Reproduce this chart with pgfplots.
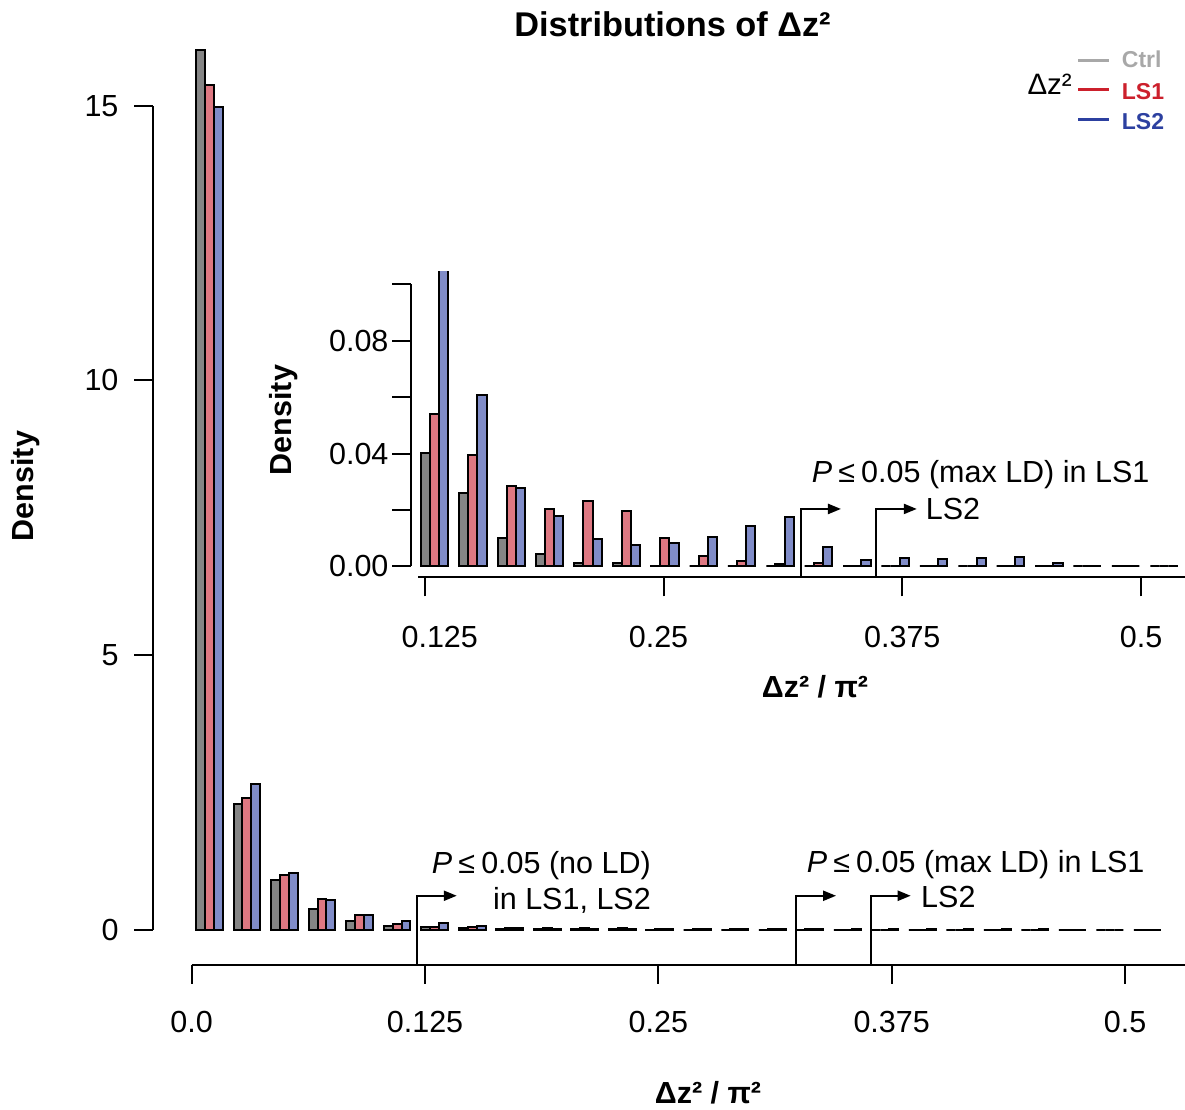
\documentclass[border=0pt]{standalone}
\usepackage{pgfplots}
\pgfplotsset{compat=1.18}
\usepackage{pgfplotstable}
\usepackage{fontspec}
\setmainfont{Liberation Sans}
\usetikzlibrary{arrows.meta}

\definecolor{ctrlfill}{RGB}{133,133,133}
\definecolor{lsonefill}{RGB}{222,120,130}
\definecolor{lstwofill}{RGB}{128,140,200}
\definecolor{ctrlline}{RGB}{168,168,168}
\definecolor{lsoneline}{RGB}{204,32,44}
\definecolor{lstwoline}{RGB}{44,64,160}

\newcommand{\tickfont}{\fontsize{30.5}{36}\selectfont}
\newcommand{\labfont}{\fontsize{30.5}{36}\selectfont\bfseries}

% Histogram densities of Delta z^2 / pi^2, bins of width 0.02 (k = bin index)
\pgfplotstableread{
k  ctrl    ls1     ls2
0  16.01   15.38   14.97
1  2.28    2.40    2.65
2  0.91    1.00    1.03
3  0.38    0.55    0.54
4  0.16    0.26    0.27
5  0.07    0.10    0.15
6  0.0402  0.054   0.12
7  0.026   0.0395  0.0608
8  0.0102  0.0286  0.0279
9  0.0045  0.0205  0.0180
10 0.0012  0.0231  0.0097
11 0.0014  0.0196  0.0076
12 0.0003  0.0102  0.0083
13 0       0.0038  0.0105
14 0       0.0021  0.0143
15 0       0.0008  0.0174
16 0       0.0012  0.0069
17 0       0.0002  0.0024
18 0       0       0.0031
19 0       0       0.0025
20 0       0       0.0031
21 0       0       0.0035
22 0       0       0.0011
23 0       0       0
24 0       0       0
25 0       0       0
}\dzdata

\pgfplotsset{
  hbar/.style={ybar, bar width=0.0048, bar shift=0pt, draw=black, line width=2pt},
  rstyle/.style={
    scale only axis, anchor=south west,
    axis lines*=left, axis line style={draw=none},
    tick align=outside, major tick length=19pt,
    tick style={line width=2pt, black},
    tick label style={font=\tickfont},
    /pgf/number format/assume math mode=true,
    clip mode=individual,
  },
}

\begin{document}
\begin{tikzpicture}[x=1pt,y=1pt]
\path[use as bounding box] (0,0) rectangle (1185,1109);

% ---------- main histogram ----------
\begin{axis}[rstyle,
  at={(153pt,144pt)}, width=1032pt, height=925pt,
  xmin=-0.02073, xmax=0.53212, ymin=-0.646, ymax=16.197,
  xtick={0,0.125,0.25,0.375,0.5}, xticklabels={0.0,0.125,0.25,0.375,0.5},
  ytick={0,5,10,15}, yticklabels={0,5,10,15},
  xticklabel style={yshift=-24pt},
  yticklabel style={xshift=-12pt},
]
\addplot[hbar, fill=ctrlfill]  table[x expr=\thisrow{k}*0.0201+0.0047, y=ctrl] {\dzdata};
\addplot[hbar, fill=lsonefill] table[x expr=\thisrow{k}*0.0201+0.0095, y=ls1]  {\dzdata};
\addplot[hbar, fill=lstwofill] table[x expr=\thisrow{k}*0.0201+0.0143, y=ls2]  {\dzdata};
\draw[line width=2pt] (axis cs:0,-0.646) -- (axis cs:0.53212,-0.646);
\draw[line width=2pt] (axis cs:-0.02073,0) -- (axis cs:-0.02073,15);
\draw[line width=2.2pt, -{Triangle[length=13pt,width=10pt]}]
  (axis cs:0.1206,-0.646) |- (axis cs:0.1420,0.615);
\draw[line width=2.2pt, -{Triangle[length=13pt,width=10pt]}]
  (axis cs:0.3236,-0.646) |- (axis cs:0.3452,0.615);
\draw[line width=2.2pt, -{Triangle[length=13pt,width=10pt]}]
  (axis cs:0.3639,-0.646) |- (axis cs:0.3852,0.615);
\end{axis}

% ---------- inset: tail of the distribution ----------
\begin{axis}[rstyle,
  at={(411pt,531.5pt)}, width=774pt, height=305.5pt,
  xmin=0.1178, xmax=0.5230, ymin=-0.0039, ymax=0.1044,
  restrict x to domain=0.118:0.53,
  xtick={0.125,0.25,0.375,0.5},
  xticklabels={\hspace*{30pt}0.125,0.25\hspace*{10pt},0.375,0.5},
  ytick={0,0.02,0.04,0.06,0.08,0.1}, yticklabels={0.00,,0.04,,0.08,},
  xticklabel style={yshift=-26pt},
]
\addplot[hbar, fill=ctrlfill]  table[x expr=\thisrow{k}*0.0201+0.0047, y=ctrl] {\dzdata};
\addplot[hbar, fill=lsonefill] table[x expr=\thisrow{k}*0.0201+0.0095, y=ls1]  {\dzdata};
\addplot[hbar, fill=lstwofill] table[x expr=\thisrow{k}*0.0201+0.0143, y=ls2]  {\dzdata};
\draw[line width=2pt] (axis cs:0.1215,-0.0039) -- (axis cs:0.5230,-0.0039);
\draw[line width=2pt] (axis cs:0.1178,0) -- (axis cs:0.1178,0.1);
\draw[line width=2.2pt, -{Triangle[length=13pt,width=10pt]}]
  (axis cs:0.3218,-0.0039) |- (axis cs:0.3429,0.0204);
\draw[line width=2.2pt, -{Triangle[length=13pt,width=10pt]}]
  (axis cs:0.3613,-0.0039) |- (axis cs:0.3826,0.0204);
\end{axis}

% ---------- titles and labels ----------
\node[anchor=base, font=\fontsize{34.3}{40}\selectfont\bfseries] at (672.5,1072.3) {Distributions of Δz²};
\node[anchor=center, rotate=90, font=\labfont] at (26,623) {Density};
\node[anchor=center, rotate=90, font=\labfont] at (284,689) {Density};
\node[anchor=base, font=\labfont] at (708,6) {Δz² / π²};
\node[anchor=base, font=\labfont] at (815,411) {Δz² / π²};

% ---------- annotations ----------
\node[anchor=base east, inner sep=0pt, font=\tickfont] at (651,236) {\textit{P}\kern0.2em≤\kern0.2em0.05 (no LD)};
\node[anchor=base east, inner sep=0pt, font=\tickfont] at (651,200) {in LS1, LS2};
\node[anchor=base west, inner sep=0pt, font=\tickfont] at (806.7,236.3) {\textit{P}\kern0.2em≤\kern0.2em0.05 (max LD) in LS1};
\node[anchor=base west, inner sep=0pt, font=\tickfont] at (921,201.3) {LS2};
\node[anchor=base west, inner sep=0pt, font=\tickfont] at (811.7,626) {\textit{P}\kern0.2em≤\kern0.2em0.05 (max LD) in LS1};
\node[anchor=base west, inner sep=0pt, font=\tickfont] at (925.7,589) {LS2};

% ---------- legend ----------
\node[anchor=base east, inner sep=0pt, font=\fontsize{29.5}{35}\selectfont] at (1072,1014) {Δz²};
\draw[line width=3pt, ctrlline]  (1078,1048) -- (1109,1048);
\draw[line width=3pt, lsoneline] (1078,1019) -- (1109,1019);
\draw[line width=3pt, lstwoline] (1078,989) -- (1109,989);
\node[anchor=base west, inner sep=0pt, text=ctrlline,  font=\fontsize{23}{28}\selectfont\bfseries] at (1121.7,1041.7) {Ctrl};
\node[anchor=base west, inner sep=0pt, text=lsoneline, font=\fontsize{23}{28}\selectfont\bfseries] at (1121.7,1009) {LS1};
\node[anchor=base west, inner sep=0pt, text=lstwoline, font=\fontsize{23}{28}\selectfont\bfseries] at (1121.7,979) {LS2};
\end{tikzpicture}
\end{document}
